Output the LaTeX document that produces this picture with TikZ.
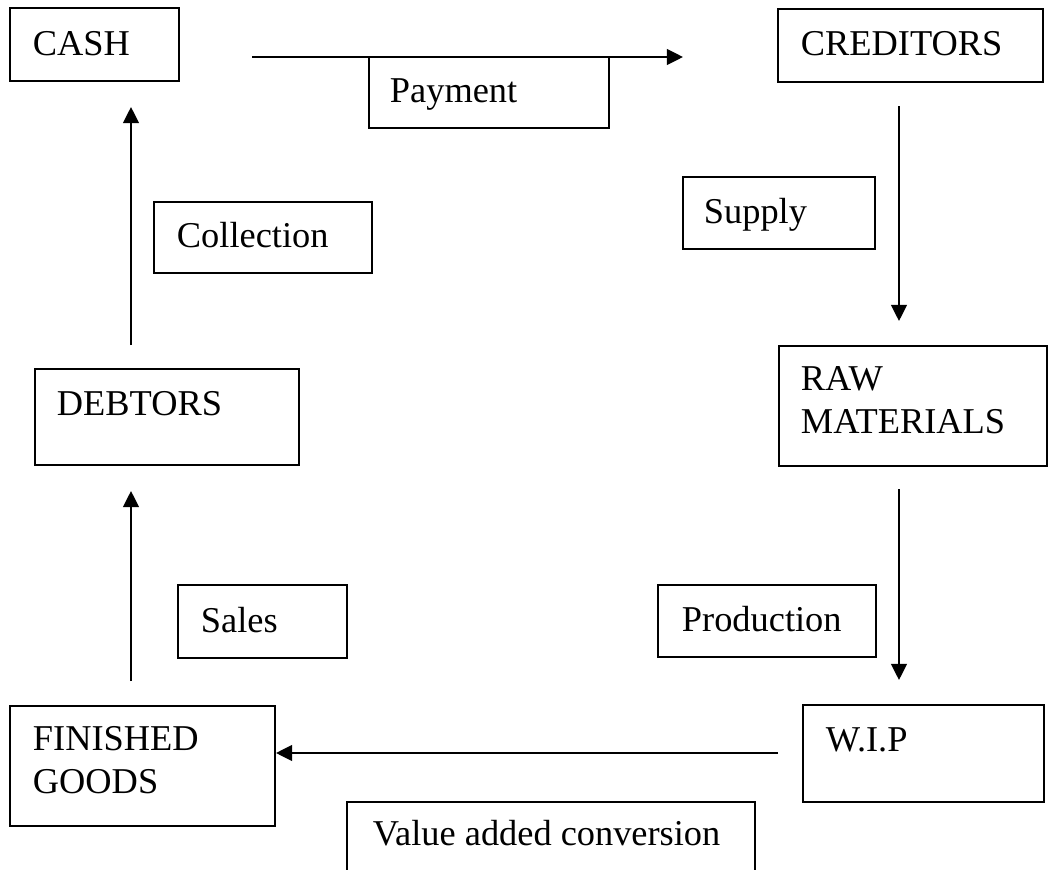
\documentclass[tikz,border=0pt]{standalone}
\usepackage{fontspec}
\setmainfont{Liberation Serif}
\usetikzlibrary{arrows.meta,fit}

\begin{document}
\begin{tikzpicture}[x=0.33pt, y=-0.33pt, line width=0.65pt,
    box/.style={draw, inner sep=0pt, line width=0.65pt},
    txt/.style={anchor=base west, inner sep=0pt, align=left,
                font=\fontsize{12}{14.2}\selectfont},
    flow/.style={-{Triangle[length=5.3pt,width=5.2pt]}}]
    \useasboundingbox (0,0) rectangle (1059,870);

    % stages of the cycle
    \node[box, fit={(10,8) (179,81)}] (cashbox) {};
    \node[txt] (cash) at (32,55) {CASH};
    \node[box, fit={(778,9) (1043,82)}] (credbox) {};
    \node[txt] (cred) at (800,55) {CREDITORS};
    \node[box, fit={(779,346) (1047,466)}] (rawbox) {};
    \node[txt] (raw) at (800,390) {RAW};
    \node[txt] (mat) at (800,433) {MATERIALS};
    \node[box, fit={(803,705) (1044,802)}] (wipbox) {};
    \node[txt] (wip) at (825,751) {W.I.P};
    \node[box, fit={(10,706) (275,826)}] (fgbox) {};
    \node[txt] (fin) at (32,750) {FINISHED};
    \node[txt] (goods) at (32,793) {GOODS};
    \node[box, fit={(35,369) (299,465)}] (debbox) {};
    \node[txt] (deb) at (56,415) {DEBTORS};

    % labels of the flows
    \node[box, fit={(369,57) (609,128)}] (paybox) {};
    \node[txt] (pay) at (389,102) {Payment};
    \node[box, fit={(683,177) (875,249)}] (supbox) {};
    \node[txt] (sup) at (703,223) {Supply};
    \node[box, fit={(658,585) (876,657)}] (prodbox) {};
    \node[txt] (prod) at (681,631) {Production};
    \node[box, fit={(178,585) (347,658)}] (salesbox) {};
    \node[txt] (sales) at (200,632) {Sales};
    \node[box, fit={(154,202) (372,273)}] (collbox) {};
    \node[txt] (coll) at (176,247) {Collection};
    \draw (347,870) -- (347,802) -- (755,802) -- (755,870);
    \node[txt] (vac) at (372,845) {Value added conversion};

    % arrows
    \coordinate (payA) at (252,57);  \coordinate (payB) at (683,57);
    \coordinate (supA) at (899,106); \coordinate (supB) at (899,321);
    \coordinate (proA) at (899,489); \coordinate (proB) at (899,680);
    \coordinate (conA) at (778,753); \coordinate (conB) at (276,753);
    \coordinate (salA) at (131,681); \coordinate (salB) at (131,491);
    \coordinate (colA) at (131,345); \coordinate (colB) at (131,107);
    \draw[flow] (payA) -- (payB);
    \draw[flow] (supA) -- (supB);
    \draw[flow] (proA) -- (proB);
    \draw[flow] (conA) -- (conB);
    \draw[flow] (salA) -- (salB);
    \draw[flow] (colA) -- (colB);
\end{tikzpicture}
\end{document}
